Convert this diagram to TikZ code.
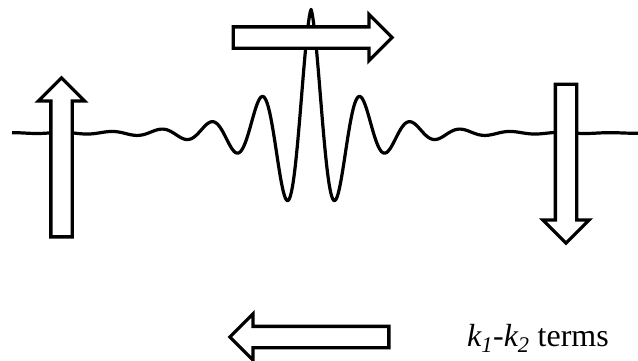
\documentclass[tikz,border=0pt]{standalone}
\usepackage{fontspec}
\setmainfont{Liberation Serif}
\usetikzlibrary{shapes.arrows}
\tikzset{blockarrow/.style={single arrow,draw=black,fill=white,line width=3.3pt,
 minimum height=159pt,minimum width=0pt,inner xsep=0pt,inner ysep=9pt,
 single arrow head extend=12.5pt,single arrow tip angle=90,anchor=tail},
 wave/.style={draw=black,line width=3.2pt,line join=round}}
\begin{document}
\begin{tikzpicture}[x=1pt,y=-1pt]
\useasboundingbox (0,0) rectangle (638,360);
\draw[wave] plot[domain=12:638,samples=700]
 (\x,{133-124*(0.93*exp(-abs(\x-311)/38)+0.07*exp(-abs(\x-311)/90))*cos(7.2*(\x-311))});
\node[blockarrow,rotate=90] (spinup) at (61.5,238.5) {};
\node[blockarrow,rotate=-90] (spindown) at (566,82.5) {};
\node[blockarrow] (kright) at (231.5,37.5) {};
\node[blockarrow,rotate=180] (kleft) at (390.5,337) {};
\node[anchor=base west,inner sep=0pt,font=\fontsize{32}{38}\selectfont] (terms) at (467,346)
 {\textit{k\textsubscript{1}}-\textit{k\textsubscript{2}} terms};
\end{tikzpicture}
\end{document}
